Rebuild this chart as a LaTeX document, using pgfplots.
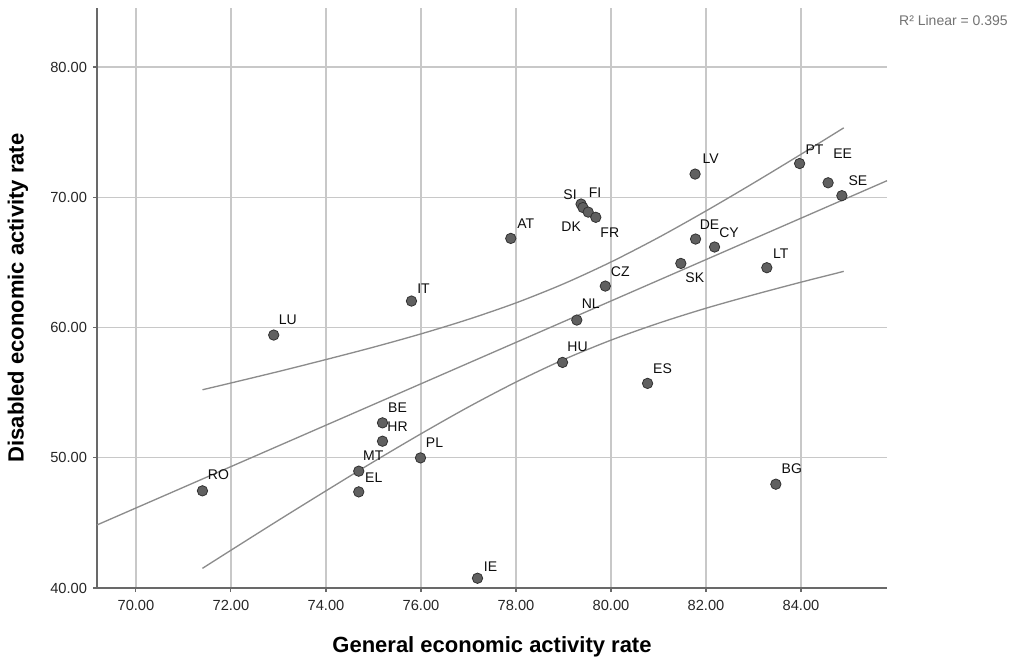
\documentclass[border=0pt]{standalone}
\usepackage{fontspec}
\setmainfont{Liberation Sans}
\usepackage{pgfplots}
\usepackage{pgfplotstable}
\pgfplotsset{compat=1.18}
\definecolor{gridc}{RGB}{200,200,200}
\definecolor{spinec}{RGB}{105,105,105}
\definecolor{fitc}{RGB}{140,140,140}
\definecolor{mfill}{RGB}{96,96,96}
\definecolor{medge}{RGB}{50,50,50}
\definecolor{rtext}{RGB}{115,115,115}

\pgfplotstableread{
x y lab ax ay
71.40 47.46 RO 12 12
72.90 59.42 LU 10.5 11.25
75.80 62.03 IT 9 9
75.19 52.68 BE 11.25 11.25
75.19 51.27 HR 11.25 11.25
74.69 48.97 MT 10.9 11.25
74.69 47.38 EL 11.25 10.5
75.99 49.99 PL 10.5 11.25
77.19 40.75 IE 9.75 9
78.98 57.32 HU 11.25 12
80.77 55.71 ES 11.25 11.25
83.47 47.97 BG 12 12
77.89 66.84 AT 11.25 11.25
79.37 69.48 SI -8.25 6.75
79.41 69.21 FI 9 11.25
79.52 68.86 DK -12.75 -11.25
79.68 68.46 FR 10.5 -11.25
81.77 71.78 LV 11.6 11.6
83.97 72.59 PT 11.25 10.5
84.57 71.11 EE 10.9 21.75
84.86 70.12 SE 12 11.25
81.78 66.79 DE 10.5 10.5
82.18 66.18 CY 10.9 10.9
81.47 64.92 SK 10.5 -10.5
83.28 64.59 LT 10.5 10.8
79.88 63.18 CZ 11.25 10.5
79.28 60.57 NL 10.5 12
}\pts

\pgfplotstableread{
x y
69.18 44.84
85.81 71.27
}\fitline

\pgfplotstableread{
x up lo
71.4 55.22 41.51
72 55.74 42.90
73 56.62 45.20
74 57.54 47.46
75 58.49 49.69
76 59.51 51.84
77 60.63 53.90
78 61.89 55.81
79 63.35 57.53
80 65.03 59.03
81 66.91 60.33
82 68.95 61.48
83 71.09 62.51
84 73.30 63.48
84.9 75.33 64.31
}\band

\begin{document}
\begin{tikzpicture}
\begin{axis}[
  scale only axis,
  width=592.5pt, height=435pt,
  xmin=69.18, xmax=85.81, ymin=40, ymax=84.53,
  axis x line*=bottom, axis y line*=left,
  axis line style={spinec, line width=1.4pt, -},
  xtick={70,72,74,76,78,80,82,84},
  ytick={40,50,60,70,80},
  grid=major,
  major grid style={gridc, line width=1.1pt},
  tick align=outside, major tick length=3pt,
  tick style={spinec, line width=0.8pt},
  xticklabel style={font=\fontsize{11}{13}\selectfont, text=black!85, yshift=-3pt},
  yticklabel style={font=\fontsize{11}{13}\selectfont, text=black!85, xshift=-1pt},
  /pgf/number format/.cd, fixed, fixed zerofill, precision=2, assume math mode=true,
  /pgfplots/.cd,
  xlabel={General economic activity rate},
  ylabel={Disabled economic activity rate},
  xlabel style={at={(axis description cs:0.5,-0.1017)}, anchor=center, font=\fontsize{16.5}{19}\selectfont\bfseries},
  ylabel style={at={(axis description cs:-0.1,0.5)}, anchor=center, font=\fontsize{16.5}{19}\selectfont\bfseries},
  clip=false,
]
\addplot[fitc, line width=1pt, smooth] table[x=x, y=up] {\band};
\addplot[fitc, line width=1pt, smooth] table[x=x, y=lo] {\band};
\addplot[fitc, line width=1pt] table[x=x, y=y] {\fitline};
\addplot[only marks, mark=*, mark size=3.9pt,
  mark options={fill=mfill, draw=medge, line width=0.6pt},
  point meta=explicit symbolic,
  visualization depends on={\thisrow{ax} \as \ax},
  visualization depends on={\thisrow{ay} \as \ay},
  nodes near coords,
  every node near coord/.append style={anchor=center, xshift=\ax, yshift=\ay,
    font=\fontsize{10.5}{12}\selectfont, text=black!95, inner sep=0pt}
] table[x=x, y=y, meta=lab] {\pts};
\node[anchor=east, text=rtext, font=\fontsize{10.5}{12}\selectfont, inner sep=0pt]
  at (rel axis cs:1.1532,0.9793) {R² Linear = 0.395};
\end{axis}
\pgfresetboundingbox
\path[use as bounding box] ([xshift=-72.75pt,yshift=-54.75pt]current axis.south west) rectangle ++(757.5pt,495.75pt);
\end{tikzpicture}
\end{document}
